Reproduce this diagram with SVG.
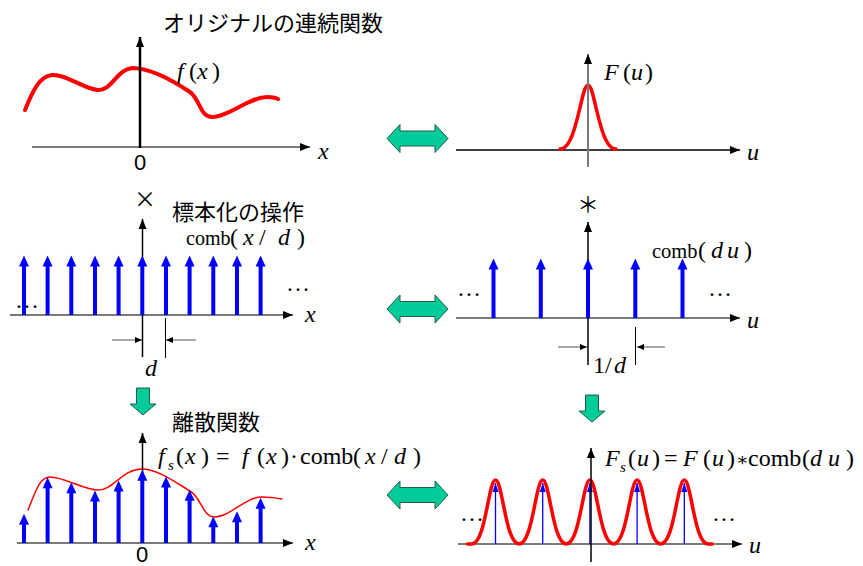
<svg xmlns="http://www.w3.org/2000/svg" width="863" height="566" viewBox="0 0 863 566">
<defs>
<style>
.jp{font-family:"Noto Sans CJK JP","Noto Sans",sans-serif;font-size:22px;fill:#000}
.m{font-family:"Liberation Serif","DejaVu Serif",serif;font-size:24px;fill:#000}
.i{font-style:italic}
.sub{font-size:15px;font-style:italic}
.s{font-family:"Liberation Sans",Arial,sans-serif;font-size:22px;fill:#000}
.ax{stroke:#000;stroke-width:1.5;fill:none}
.axg{stroke:#7a7a7a;stroke-width:2;fill:none}
.red{stroke:#ff0000;fill:none;stroke-linecap:round;stroke-linejoin:round}
.bl{stroke:#0000ff;stroke-width:4}
.blt{stroke:#0000ff;stroke-width:1.3}
.dim{stroke:#555;stroke-width:1}
.grn{fill:#00cc99;stroke:#2b5a4a;stroke-width:1}
</style>
<marker id="ah" markerUnits="userSpaceOnUse" markerWidth="10" markerHeight="8" refX="10" refY="4" orient="auto" overflow="visible"><path d="M0,0 L10,4 L0,8 z" fill="#000"/></marker>
<marker id="bh" markerUnits="userSpaceOnUse" markerWidth="11" markerHeight="10" refX="0.5" refY="5" orient="auto" overflow="visible"><path d="M0,0 L11,5 L0,10 z" fill="#0000ff"/></marker>
<marker id="bt" markerUnits="userSpaceOnUse" markerWidth="9" markerHeight="6" refX="9" refY="3" orient="auto" overflow="visible"><path d="M0,0 L9,3 L0,6 z" fill="#0000ff"/></marker>
<marker id="dh" markerUnits="userSpaceOnUse" markerWidth="7" markerHeight="6" refX="7" refY="3" orient="auto" overflow="visible"><path d="M0,0 L7,3 L0,6 z" fill="#000"/></marker>
<path id="gauss" d="M-28,0 C-11,0 -7,-64 0,-64 C7,-64 11,0 28,0"/>
<path id="dbl" d="M-30.5,0 L-17.5,-14 L-17.5,-7.5 L17.5,-7.5 L17.5,-14 L30.5,0 L17.5,14 L17.5,7.5 L-17.5,7.5 L-17.5,14 z"/>
<path id="down" d="M-6.5,0 L6.5,0 L6.5,16 L13,16 L0,27 L-13,16 L-6.5,16 z"/>
</defs>

<g id="orig">
<path class="red" stroke-width="4" d="M25,110 C33,90 40,76 52,75 C66,74 84,89 98,90 C112,91 116,70 132,68 C150,68 175,82 190,92 C200,99 200,117 212,117 C228,117 250,97 267,97 C272,97 276,98 278,99"/>
<line class="axg" x1="32" y1="147" x2="310" y2="147" marker-end="url(#ah)"/>
<line x1="140" y1="148" x2="140" y2="37" stroke="#000" stroke-width="2.5" marker-end="url(#ah)"/>
<text class="m" y="79"><tspan class="i" x="177">f</tspan><tspan x="189">(</tspan><tspan class="i" x="197">x</tspan><tspan x="212">)</tspan></text>
<text class="m i" x="318" y="159">x</text>
<text class="s" x="140" y="170" text-anchor="middle">0</text>
<text class="jp" x="163" y="31">オリジナルの連続関数</text>
</g>

<g id="ft-orig">
<line x1="456" y1="150" x2="740" y2="150" stroke="#000" stroke-width="1.5" marker-end="url(#ah)"/>
<use href="#gauss" class="red" stroke-width="3.5" transform="translate(588,149)"/>
<line class="axg" x1="588" y1="167" x2="588" y2="54" marker-end="url(#ah)"/>
<text class="m" y="80"><tspan class="i" x="604">F</tspan><tspan x="623">(</tspan><tspan class="i" x="631">u</tspan><tspan x="645">)</tspan></text>
<text class="m i" x="747" y="160">u</text>
</g>

<g id="comb">
<text class="jp" x="145" y="207" text-anchor="middle" font-size="22">×</text>
<line class="axg" x1="10" y1="315" x2="293" y2="315" stroke="#555" marker-end="url(#ah)"/>
<line class="ax" x1="142.5" y1="357" x2="142.5" y2="219" marker-end="url(#ah)"/>
<g marker-end="url(#bh)" class="bl">
<line x1="24" y1="315" x2="24" y2="266"/>
<line x1="47.6" y1="315" x2="47.6" y2="266"/>
<line x1="71.3" y1="315" x2="71.3" y2="266"/>
<line x1="95" y1="315" x2="95" y2="266"/>
<line x1="118.6" y1="315" x2="118.6" y2="266"/>
<line x1="142.3" y1="315" x2="142.3" y2="266"/>
<line x1="166" y1="315" x2="166" y2="266"/>
<line x1="189.6" y1="315" x2="189.6" y2="266"/>
<line x1="213.3" y1="315" x2="213.3" y2="266"/>
<line x1="237" y1="315" x2="237" y2="266"/>
<line x1="260.6" y1="315" x2="260.6" y2="266"/>
</g>
<line x1="165.5" y1="318" x2="165.5" y2="358" stroke="#000" stroke-width="1"/>
<line class="dim" x1="112" y1="340" x2="142" y2="340" marker-end="url(#dh)"/>
<line class="dim" x1="196" y1="340" x2="166" y2="340" marker-end="url(#dh)"/>
<text class="m i" x="145" y="376">d</text>
<text class="m" font-size="18" x="15" y="308">…</text>
<text class="m" font-size="18" x="286" y="291">…</text>
<text class="m i" x="305" y="322">x</text>
<text class="jp" x="172" y="220">標本化の操作</text>
<text class="m" font-size="22" y="245"><tspan x="186" font-size="20">comb</tspan><tspan x="230">(</tspan><tspan class="i" x="243">x</tspan><tspan x="259">/</tspan><tspan class="i" x="278">d</tspan><tspan x="297">)</tspan></text>
</g>

<g id="ft-comb">
<text class="jp" x="588" y="212" text-anchor="middle" font-size="20">＊</text>
<line class="axg" x1="456" y1="318" x2="740" y2="318" marker-end="url(#ah)"/>
<line class="ax" x1="588" y1="365" x2="588" y2="222" stroke-width="1.2" marker-end="url(#ah)"/>
<g marker-end="url(#bh)" class="bl">
<line x1="493.5" y1="318" x2="493.5" y2="269"/>
<line x1="540.8" y1="318" x2="540.8" y2="269"/>
<line x1="588" y1="318" x2="588" y2="269"/>
<line x1="635.3" y1="318" x2="635.3" y2="269"/>
<line x1="682.5" y1="318" x2="682.5" y2="269"/>
</g>
<line x1="635.5" y1="327" x2="635.5" y2="365" stroke="#000" stroke-width="1"/>
<line class="dim" x1="558" y1="347" x2="587" y2="347" marker-end="url(#dh)"/>
<line class="dim" x1="665" y1="347" x2="637" y2="347" marker-end="url(#dh)"/>
<text class="m" font-size="21" y="373"><tspan x="593">1</tspan><tspan x="605">/</tspan><tspan class="i" x="614">d</tspan></text>
<text class="m" font-size="18" x="457" y="296">…</text>
<text class="m" font-size="18" x="708" y="296">…</text>
<text class="m i" x="747" y="328">u</text>
<text class="m" font-size="22" y="258"><tspan x="652" font-size="20.5">comb</tspan><tspan x="698">(</tspan><tspan class="i" x="711">d</tspan><tspan class="i" x="727">u</tspan><tspan x="744">)</tspan></text>
</g>

<g id="sampled">
<path class="red" stroke-width="1.5" d="M28,510 C36,490 40,477 50,477 C64,477 84,490 98,490 C114,490 122,469 142,469 C158,469 178,484 190,491 C202,498 202,517 215,517 C230,517 245,497 262,497 C270,497 276,498 282,499"/>
<line class="axg" x1="17" y1="543" x2="293" y2="543" marker-end="url(#ah)"/>
<line class="ax" x1="142.5" y1="543" x2="142.5" y2="433" marker-end="url(#ah)"/>
<g marker-end="url(#bh)" class="bl">
<line x1="24" y1="543" x2="24" y2="524.3"/>
<line x1="47.6" y1="543" x2="47.6" y2="487.7"/>
<line x1="71.3" y1="543" x2="71.3" y2="492.7"/>
<line x1="95" y1="543" x2="95" y2="501"/>
<line x1="118.6" y1="543" x2="118.6" y2="491"/>
<line x1="142.3" y1="543" x2="142.3" y2="480.3"/>
<line x1="166" y1="543" x2="166" y2="487"/>
<line x1="189.6" y1="543" x2="189.6" y2="500.3"/>
<line x1="213.3" y1="543" x2="213.3" y2="526.7"/>
<line x1="237" y1="543" x2="237" y2="521.7"/>
<line x1="260.6" y1="543" x2="260.6" y2="508.3"/>
</g>
<text class="m i" x="305" y="550">x</text>
<text class="s" x="142" y="562" text-anchor="middle">0</text>
<text class="jp" x="172" y="430">離散関数</text>
<text class="m" y="464"><tspan class="i" x="158">f</tspan><tspan class="sub" x="168" y="470">s</tspan><tspan x="176" y="464">(</tspan><tspan class="i" x="185">x</tspan><tspan x="201">)</tspan><tspan x="216">=</tspan><tspan class="i" x="242">f</tspan><tspan x="257">(</tspan><tspan class="i" x="266">x</tspan><tspan x="281">)</tspan><tspan x="290">·</tspan><tspan x="300">comb</tspan><tspan x="353">(</tspan><tspan class="i" x="365">x</tspan><tspan x="381">/</tspan><tspan class="i" x="394">d</tspan><tspan x="413">)</tspan></text>
</g>

<g id="ft-sampled">
<line class="axg" x1="458" y1="544" x2="742" y2="544" marker-end="url(#ah)"/>
<path class="red" stroke-width="3.5" d="M467.5,544 L471.9,544 c13.6,0 16.6,-64 23.6,-64 c7,0 10,64 23.6,64 c13.6,0 16.6,-64 23.6,-64 c7,0 10,64 23.6,64 c13.6,0 16.6,-64 23.6,-64 c7,0 10,64 23.6,64 c13.6,0 16.6,-64 23.6,-64 c7,0 10,64 23.6,64 c13.6,0 16.6,-64 23.6,-64 c7,0 10,64 23.6,64 l4.4,0"/>
<g marker-end="url(#bt)" class="blt">
<line x1="495.5" y1="544" x2="495.5" y2="483"/>
<line x1="542.7" y1="544" x2="542.7" y2="483"/>
<line x1="589.9" y1="544" x2="589.9" y2="483"/>
<line x1="637.1" y1="544" x2="637.1" y2="483"/>
<line x1="684.3" y1="544" x2="684.3" y2="483"/>
</g>
<line class="ax" x1="591" y1="562" x2="591" y2="448" stroke-width="1.2" marker-end="url(#ah)"/>
<text class="m" font-size="18" x="460" y="521">…</text>
<text class="m" font-size="18" x="712" y="521">…</text>
<text class="m i" x="749" y="553">u</text>
<text class="m" y="466"><tspan class="i" x="605">F</tspan><tspan class="sub" x="620" y="472">s</tspan><tspan x="628" y="466">(</tspan><tspan class="i" x="637">u</tspan><tspan x="652">)</tspan><tspan x="664">=</tspan><tspan class="i" x="683">F</tspan><tspan x="703">(</tspan><tspan class="i" x="712">u</tspan><tspan x="727">)</tspan><tspan x="736" font-family="DejaVu Serif" font-size="18">∗</tspan><tspan x="748">comb</tspan><tspan x="802">(</tspan><tspan class="i" x="810">d</tspan><tspan class="i" x="828">u</tspan><tspan x="846">)</tspan></text>
</g>

<g id="connectors">
<use href="#dbl" class="grn" transform="translate(417.5,138.5)"/>
<use href="#dbl" class="grn" transform="translate(417.5,309)"/>
<use href="#dbl" class="grn" transform="translate(417.5,495)"/>
<use href="#down" class="grn" transform="translate(143,388)"/>
<use href="#down" class="grn" transform="translate(592,395)"/>
</g>
</svg>
